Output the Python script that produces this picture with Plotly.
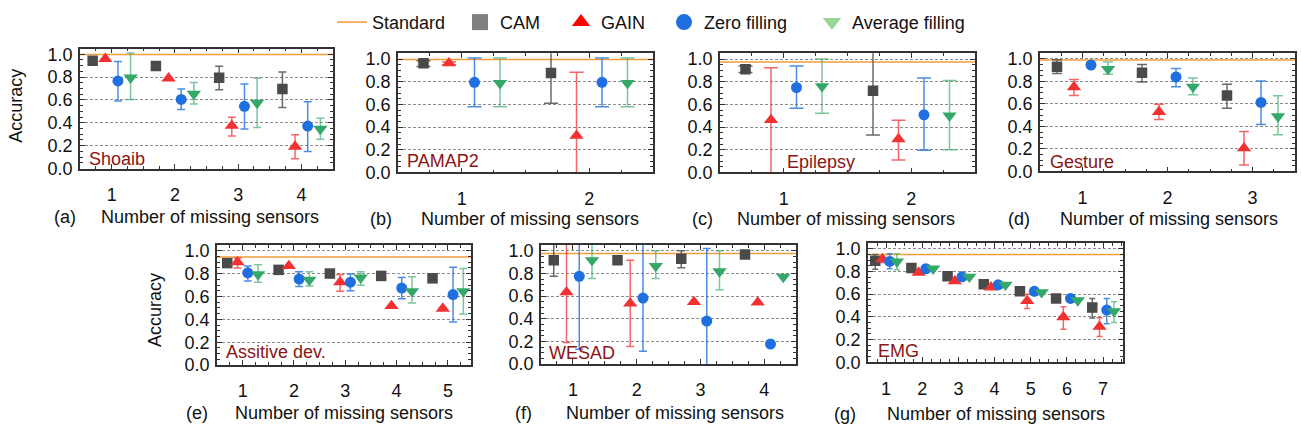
import plotly.graph_objects as go

W, H = 1301, 439
FONT = "Liberation Sans, Arial, sans-serif"

# ---------------- data ----------------
datasets = ["Shoaib", "PAMAP2", "Epilepsy", "Gesture", "Assitive dev.", "WESAD", "EMG"]
panel_tags = ["(a)", "(b)", "(c)", "(d)", "(e)", "(f)", "(g)"]
n_missing = {
    "Shoaib": [1, 2, 3, 4],
    "PAMAP2": [1, 2],
    "Epilepsy": [1, 2],
    "Gesture": [1, 2, 3],
    "Assitive dev.": [1, 2, 3, 4, 5],
    "WESAD": [1, 2, 3, 4],
    "EMG": [1, 2, 3, 4, 5, 6, 7],
}
standard = {"Shoaib": 0.997, "PAMAP2": 0.995, "Epilepsy": 0.975, "Gesture": 0.99,
            "Assitive dev.": 0.945, "WESAD": 0.975, "EMG": 0.95}

N = None
cam_mean = {"Shoaib": [0.943, 0.898, 0.795, 0.696], "PAMAP2": [0.963, 0.878], "Epilepsy": [0.91, 0.72],
            "Gesture": [0.93, 0.878, 0.676], "Assitive dev.": [0.892, 0.833, 0.801, 0.78, 0.759],
            "WESAD": [0.915, 0.915, 0.93, 0.966], "EMG": [0.895, 0.83, 0.758, 0.688, 0.625, 0.5625, 0.483]}
cam_hi = {"Shoaib": [N, N, 0.895, 0.844], "PAMAP2": [0.986, 1.1], "Epilepsy": [0.938, 1.1],
          "Gesture": [0.994, 0.95, 0.776], "Assitive dev.": [N, N, N, N, N],
          "WESAD": [1.1, 0.93, 1.0, N], "EMG": [0.95, N, N, N, N, N, 0.5625]}
cam_lo = {"Shoaib": [N, N, 0.69, 0.534], "PAMAP2": [0.935, 0.61], "Epilepsy": [0.881, 0.33],
          "Gesture": [0.872, 0.795, 0.5625], "Assitive dev.": [N, N, N, N, N],
          "WESAD": [0.775, 0.9, 0.85, N], "EMG": [0.82, N, N, N, N, N, 0.39]}

gain_mean = {"Shoaib": [0.96, 0.79, 0.375, 0.193], "PAMAP2": [0.963, 0.324], "Epilepsy": [0.463, 0.294],
             "Gesture": [0.75, 0.53, 0.207], "Assitive dev.": [0.9, 0.867, 0.725, 0.518, 0.495],
             "WESAD": [0.634, 0.535, 0.549, 0.544], "EMG": [0.909, 0.79, 0.716, 0.66, 0.54, 0.398, 0.313]}
gain_hi = {"Shoaib": [N, N, 0.449, 0.295], "PAMAP2": [0.975, 0.884], "Epilepsy": [0.924, 0.46],
           "Gesture": [0.818, 0.597, 0.355], "Assitive dev.": [0.937, N, 0.793, N, N],
           "WESAD": [1.1, 0.915, N, N], "EMG": [0.93, N, N, N, 0.6, 0.49, 0.392]}
gain_lo = {"Shoaib": [N, N, 0.284, 0.085], "PAMAP2": [0.95, -0.05], "Epilepsy": [-0.05, 0.11],
           "Gesture": [0.676, 0.463, 0.057], "Assitive dev.": [0.85, N, 0.645, N, N],
           "WESAD": [0.19, 0.155, N, N], "EMG": [0.88, N, N, N, 0.474, 0.29, 0.227]}

zero_mean = {"Shoaib": [0.767, 0.605, 0.545, 0.372], "PAMAP2": [0.795, 0.795], "Epilepsy": [0.749, 0.508],
             "Gesture": [0.946, 0.84, 0.614], "Assitive dev.": [0.807, 0.753, 0.725, 0.674, 0.617],
             "WESAD": [0.775, 0.583, 0.38, 0.177], "EMG": [0.889, 0.824, 0.753, 0.682, 0.625, 0.5625, 0.46]}
zero_hi = {"Shoaib": [0.9375, 0.696, 0.739, 0.585], "PAMAP2": [1.01, 1.01], "Epilepsy": [0.938, 0.833],
           "Gesture": [N, 0.915, 0.804], "Assitive dev.": [0.867, 0.816, 0.796, 0.767, 0.855],
           "WESAD": [1.1, 1.1, 1.02, N], "EMG": [0.957, N, N, N, N, N, 0.5625]}
zero_lo = {"Shoaib": [0.59, 0.517, 0.347, 0.15], "PAMAP2": [0.58, 0.58], "Epilepsy": [0.565, 0.195],
           "Gesture": [N, 0.753, 0.418], "Assitive dev.": [0.736, 0.688, 0.651, 0.58, 0.376],
           "WESAD": [0.132, 0.113, -0.05, N], "EMG": [0.824, N, N, N, N, N, 0.34]}

avg_mean = {"Shoaib": [0.795, 0.653, 0.574, 0.347], "PAMAP2": [0.787, 0.787], "Epilepsy": [0.76, 0.5],
            "Gesture": [0.91, 0.753, 0.489], "Assitive dev.": [0.793, 0.745, 0.765, 0.645, 0.645],
            "WESAD": [0.915, 0.865, 0.817, 0.769], "EMG": [0.886, 0.824, 0.753, 0.682, 0.616, 0.545, 0.449]}
avg_hi = {"Shoaib": [1.01, 0.753, 0.79, 0.44], "PAMAP2": [1.01, 1.01], "Epilepsy": [1.0, 0.81],
          "Gesture": [0.974, 0.832, 0.673], "Assitive dev.": [0.878, 0.816, 0.816, 0.773, 0.844],
          "WESAD": [1.1, 1.0, 1.0, N], "EMG": [0.957, N, N, N, N, N, 0.534]}
avg_lo = {"Shoaib": [0.605, 0.565, 0.36, 0.256], "PAMAP2": [0.58, 0.58], "Epilepsy": [0.523, 0.2],
          "Gesture": [0.864, 0.682, 0.327], "Assitive dev.": [0.725, 0.693, 0.699, 0.543, 0.447],
          "WESAD": [0.755, 0.755, 0.656, N], "EMG": [0.815, N, N, N, N, N, 0.35]}

# ---------------- styling / layout ----------------
# panel boxes in pixels: x0, x1, y_top, y_bottom
boxes = [(80, 333, 46, 170), (398, 653, 51, 174), (720, 975, 51, 174), (1040, 1295, 51, 173),
         (217, 471, 249, 373), (541, 796, 249, 372), (868, 1123, 247, 370)]
xranges = [(0.5, 4.5), (0.5, 2.5), (0.5, 2.5), (0.5, 3.5), (0.5, 5.45), (0.5, 4.5), (0.5, 7.55)]
capw = [4, 7, 7, 5, 4, 4, 3]
title_pos = [(210, 65, 220), (530, 381, 222), (846, 702, 222), (1169, 1019, 222),
             (344, 197, 422), (675, 523, 422), (996, 845, 423)]
label_pos = [(87, 160), (405, 162), (785, 163), (1048, 163), (224, 359), (547, 361), (876, 358)]

methods = [
    ("CAM", cam_mean, cam_hi, cam_lo, "square", 10.5, "#4a4a4a", "rgba(80,80,80,0.85)", -0.3, "#808080"),
    ("GAIN", gain_mean, gain_hi, gain_lo, "triangle-up", 12.5, "#f23232", "rgba(242,50,50,0.75)", -0.1, "#ff0000"),
    ("Zero filling", zero_mean, zero_hi, zero_lo, "circle", 11, "#1f6fe0", "rgba(31,111,224,0.8)", 0.1, "#1e6fe0"),
    ("Average filling", avg_mean, avg_hi, avg_lo, "triangle-down", 12.5, "#34a868", "rgba(52,168,104,0.65)", 0.3, "#99d699"),
]
# legend: text start x (px)
legend_text_x = [372, 500, 601, 704, 852]
legend_y_px = 19

fig = go.Figure()
layout = {}
annotations = []


def px_x(v):
    return v / W


def px_y(v):
    return 1 - v / H


for i, ds in enumerate(datasets):
    k = "" if i == 0 else str(i + 1)
    xa, ya = "x" + k, "y" + k
    x0, x1, yt, yb = boxes[i]
    xs = n_missing[ds]
    # standard line
    fig.add_trace(go.Scatter(x=list(xranges[i]), y=[standard[ds]] * 2, mode="lines",
                             line=dict(color="#f39c3c", width=1.5), xaxis=xa, yaxis=ya,
                             showlegend=False, hoverinfo="skip"))
    for name, mean, hi, lo, sym, size, col, ecol, off, lcol in methods:
        m = mean[ds]
        up = [None if h is None else h - v for h, v in zip(hi[ds], m)]
        dn = [None if l is None else v - l for l, v in zip(lo[ds], m)]
        fig.add_trace(go.Scatter(
            x=[x + off for x in xs], y=m, mode="markers", xaxis=xa, yaxis=ya,
            marker=dict(symbol=sym, size=size, color=col, line=dict(width=0)),
            error_y=dict(type="data", symmetric=False, array=up, arrayminus=dn,
                         color=ecol, thickness=1.5, width=capw[i]),
            showlegend=False, name=name))
    axis_common = dict(showline=True, linecolor="#333333", linewidth=1.5, mirror="ticks",
                       ticks="inside", tickcolor="#333333", ticklen=5, tickwidth=1,
                       showgrid=False, zeroline=False,
                       tickfont=dict(family=FONT, size=18, color="#111111"))
    layout["xaxis" + k] = dict(axis_common, domain=[px_x(x0), px_x(x1)], range=list(xranges[i]),
                               anchor=ya, tickvals=xs, ticklabelstandoff=9,
                               minor=dict(ticks="inside", dtick=0.25, tick0=0.5, ticklen=3,
                                          tickcolor="#333333"))
    layout["yaxis" + k] = dict(axis_common, domain=[px_y(yb), px_y(yt)], range=[0, 1.05],
                               anchor=xa, tickvals=[0, 0.2, 0.4, 0.6, 0.8, 1.0], tickformat=".1f",
                               showgrid=True, gridcolor="#8c8c8c", griddash="3px,2px", gridwidth=1,
                               ticklabelstandoff=2,
                               minor=dict(ticks="inside", dtick=0.05, tick0=0, ticklen=3,
                                          tickcolor="#333333", showgrid=False))
    tx, px_, ty = title_pos[i]
    annotations.append(dict(text="Number of missing sensors", x=px_x(tx), y=px_y(ty), xref="paper",
                            yref="paper", showarrow=False, xanchor="center", yanchor="middle",
                            font=dict(family=FONT, size=18, color="#111111")))
    annotations.append(dict(text=panel_tags[i], x=px_x(px_), y=px_y(ty), xref="paper", yref="paper",
                            showarrow=False, xanchor="center", yanchor="middle",
                            font=dict(family=FONT, size=18, color="#111111")))
    lx, ly = label_pos[i]
    annotations.append(dict(text=ds, x=px_x(lx), y=px_y(ly), xref="paper", yref="paper",
                            showarrow=False, xanchor="left", yanchor="middle",
                            font=dict(family=FONT, size=18, color="#8b1414")))

for (ax, ay) in [(16, 105), (155, 316)]:
    annotations.append(dict(text="Accuracy", x=px_x(ax), y=px_y(ay), xref="paper", yref="paper",
                            showarrow=False, textangle=-90, xanchor="center", yanchor="middle",
                            font=dict(family=FONT, size=18, color="#111111")))

# legend entries, one legend box per entry so spacing can follow the reference
legend_names = ["legend", "legend2", "legend3", "legend4", "legend5"]
fig.add_trace(go.Scatter(x=[None], y=[None], mode="lines", name="Standard",
                         line=dict(color="#f39c3c", width=1.5), showlegend=True,
                         legend=legend_names[0]))
for j, (name, mean, hi, lo, sym, size, col, ecol, off, lcol) in enumerate(methods):
    fig.add_trace(go.Scatter(x=[None], y=[None], mode="markers", name=name,
                             marker=dict(symbol=sym, size=16, color=lcol), showlegend=True,
                             legend=legend_names[j + 1]))
for j, ln in enumerate(legend_names):
    layout[ln] = dict(orientation="h", x=px_x(legend_text_x[j] - 40), xanchor="left",
                      y=px_y(legend_y_px), yanchor="middle",
                      font=dict(family=FONT, size=18, color="#111111"),
                      bgcolor="rgba(0,0,0,0)", borderwidth=0)

fig.update_layout(
    width=W, height=H, margin=dict(l=0, r=0, t=0, b=0),
    paper_bgcolor="white", plot_bgcolor="white",
    font=dict(family=FONT, size=18, color="#111111"),
    showlegend=True,
    annotations=annotations,
    **layout,
)

fig.write_html("out.html", config={"displayModeBar": False},
               post_script="document.body.style.margin='0';")
